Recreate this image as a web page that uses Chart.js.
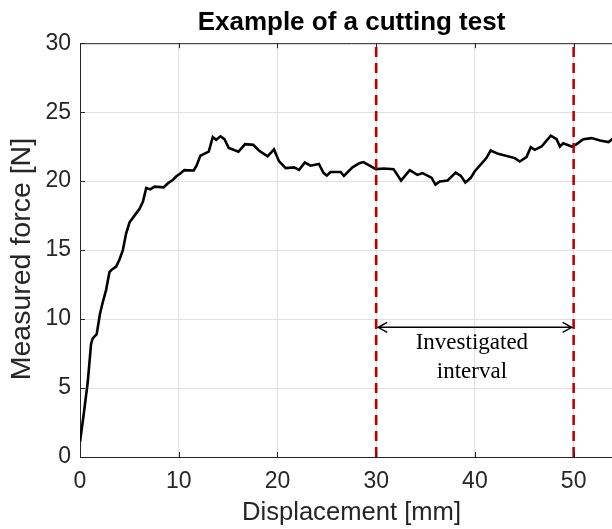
<!DOCTYPE html>
<html>
<head>
<meta charset="utf-8">
<script src="https://cdn.jsdelivr.net/npm/chart.js@4/dist/chart.umd.min.js"></script>
<style>
  html, body { margin: 0; padding: 0; background: #fff; overflow: hidden; }
  #wrap { width: 640px; height: 529px; }
</style>
</head>
<body>
<div id="wrap"><canvas id="c" width="640" height="529"></canvas></div>
<script>
// ---- data ----
const displacement = [0.0, 0.34, 0.78, 1.12, 1.29, 1.69, 2.03, 2.30, 2.64, 2.98, 3.25, 3.66, 3.99, 4.34, 4.67, 5.01, 5.52, 6.03, 6.37, 6.71, 7.11, 7.55, 8.47, 8.91, 9.42, 9.76, 10.16, 10.57, 11.52, 11.79, 12.2, 13.04, 13.45, 13.79, 14.23, 14.63, 15.07, 16.05, 16.72, 17.55, 18.12, 19.0, 19.65, 20.15, 20.83, 21.68, 22.19, 22.78, 23.35, 24.2, 24.66, 25.0, 25.38, 26.4, 26.73, 27.6, 28.3, 28.7, 29.98, 30.8, 31.76, 32.52, 33.4, 34.18, 34.7, 35.6, 36.0, 36.45, 37.23, 38.05, 38.58, 39.03, 39.56, 39.97, 41.16, 41.6, 42.35, 44.04, 44.54, 45.22, 45.66, 46.07, 46.75, 47.26, 47.69, 48.27, 48.61, 48.95, 49.8, 50.2, 50.98, 51.83, 52.67, 53.53, 54.07, 55.0];
const force = [1.1, 2.9, 5.4, 8.2, 8.6, 8.9, 10.4, 11.2, 12.1, 13.4, 13.6, 13.8, 14.3, 15.0, 16.2, 17.0, 17.5, 18.0, 18.5, 19.5, 19.4, 19.6, 19.55, 19.85, 20.1, 20.35, 20.55, 20.8, 20.77, 21.1, 21.85, 22.14, 23.2, 23.0, 23.25, 23.04, 22.4, 22.14, 22.68, 22.63, 22.22, 21.8, 22.3, 21.45, 20.94, 21.0, 20.82, 21.35, 21.12, 21.25, 20.6, 20.4, 20.66, 20.66, 20.38, 21.0, 21.3, 21.38, 20.87, 20.92, 20.87, 20.04, 20.8, 20.45, 20.58, 20.25, 19.75, 19.98, 20.05, 20.62, 20.38, 19.9, 20.22, 20.7, 21.67, 22.22, 21.98, 21.67, 21.42, 21.74, 22.46, 22.27, 22.51, 22.94, 23.3, 23.04, 22.51, 22.75, 22.51, 22.63, 23.04, 23.12, 22.94, 22.83, 23.12, 23.2];
const intervalBounds = [30, 50];
const forceRange = [0, 30];
const xTicks = [0, 10, 20, 30, 40, 50];
const yTicks = [0, 5, 10, 15, 20, 25, 30];
const arrowForce = 9.4;
const annotationLines = ['Investigated', 'interval'];
const titleText = 'Example of a cutting test';
const xLabel = 'Displacement [mm]';
const yLabel = 'Measured force [N]';

const curve = displacement.map((d, i) => ({ x: d, y: force[i] }));
const boundaryData = intervalBounds.map(b => forceRange.map(f => ({ x: b, y: f })));

const AXC = '#262626';
const SANS = "'Liberation Sans', Arial, Helvetica, sans-serif";

const decor = {
  id: 'decor',
  afterDraw(chart) {
    const { ctx, chartArea: a, scales } = chart;
    const xs = scales.x, ys = scales.y;
    ctx.save();
    // top border + inward ticks
    ctx.strokeStyle = AXC;
    ctx.lineWidth = 1;
    ctx.beginPath();
    ctx.moveTo(a.left, a.top + 0.5);
    ctx.lineTo(a.right, a.top + 0.5);
    xTicks.forEach(t => {
      const px = Math.round(xs.getPixelForValue(t)) + 0.5;
      ctx.moveTo(px, a.bottom); ctx.lineTo(px, a.bottom - 5);
      ctx.moveTo(px, a.top); ctx.lineTo(px, a.top + 5);
    });
    yTicks.forEach(t => {
      const py = Math.round(ys.getPixelForValue(t)) + 0.5;
      ctx.moveTo(a.left, py); ctx.lineTo(a.left + 5, py);
    });
    ctx.stroke();

    // y axis label
    ctx.save();
    ctx.translate(22, (a.top + a.bottom) / 2 + 9);
    ctx.rotate(-Math.PI / 2);
    ctx.fillStyle = AXC;
    ctx.font = "28.5px " + SANS;
    ctx.textAlign = 'center';
    ctx.textBaseline = 'middle';
    ctx.fillText(yLabel, 0, 0);
    ctx.restore();

    // double-headed arrow
    const x1 = xs.getPixelForValue(intervalBounds[0]) + 2;
    const x2 = xs.getPixelForValue(intervalBounds[1]) - 2;
    const ay = ys.getPixelForValue(arrowForce);
    ctx.strokeStyle = '#000';
    ctx.lineWidth = 1.5;
    ctx.beginPath();
    ctx.moveTo(x1, ay); ctx.lineTo(x2, ay);
    ctx.moveTo(x1 + 9, ay - 5); ctx.lineTo(x1, ay); ctx.lineTo(x1 + 9, ay + 5);
    ctx.moveTo(x2 - 9, ay - 5); ctx.lineTo(x2, ay); ctx.lineTo(x2 - 9, ay + 5);
    ctx.stroke();

    // annotation text
    const cx = xs.getPixelForValue((intervalBounds[0] + intervalBounds[1]) / 2) - 3;
    ctx.fillStyle = '#000';
    ctx.font = "23px 'Liberation Serif', 'Times New Roman', serif";
    ctx.textAlign = 'center';
    ctx.textBaseline = 'middle';
    ctx.fillText(annotationLines[0], cx, ay + 16);
    ctx.fillText(annotationLines[1], cx, ay + 45);
    ctx.restore();
  }
};

new Chart(document.getElementById('c'), {
  type: 'scatter',
  data: {
    datasets: [
      { data: curve, showLine: true, borderColor: '#000', borderWidth: 2.6, pointRadius: 0, tension: 0, order: 2 },
      { data: boundaryData[0], showLine: true, borderColor: '#c00000', borderWidth: 2.6, borderDash: [10, 6], pointRadius: 0, order: 1 },
      { data: boundaryData[1], showLine: true, borderColor: '#c00000', borderWidth: 2.6, borderDash: [10, 6], pointRadius: 0, order: 1 }
    ]
  },
  options: {
    responsive: false,
    animation: false,
    devicePixelRatio: 1,
    layout: { padding: { left: 0, right: 17, top: 0, bottom: 0 } },
    plugins: {
      legend: { display: false },
      tooltip: { enabled: false },
      title: {
        display: true, text: titleText, fullSize: false, color: '#000',
        font: { family: SANS, size: 26, weight: 'bold', lineHeight: 1.2 },
        padding: { top: 7, bottom: 5 }
      }
    },
    scales: {
      x: {
        type: 'linear', min: 0, max: 55,
        afterBuildTicks: s => { s.ticks = xTicks.map(v => ({ value: v })); },
        afterFit: s => { s.height = 72; },
        ticks: { color: AXC, font: { family: SANS, size: 23 }, padding: 11, maxRotation: 0 },
        grid: { color: '#e0e0e0', lineWidth: 1, drawTicks: false },
        border: { color: AXC, width: 1 },
        title: { display: true, text: xLabel, color: AXC, font: { family: SANS, size: 25.6 }, padding: { top: 0, bottom: 1 } }
      },
      y: {
        min: forceRange[0], max: forceRange[1],
        afterBuildTicks: s => { s.ticks = yTicks.map(v => ({ value: v })); },
        afterFit: s => { s.width = 80; },
        ticks: { color: AXC, font: { family: SANS, size: 23 }, padding: 9 },
        grid: { color: '#e0e0e0', lineWidth: 1, drawTicks: false },
        border: { color: AXC, width: 1 },
        title: { display: false }
      }
    }
  },
  plugins: [decor]
});
</script>
</body>
</html>
